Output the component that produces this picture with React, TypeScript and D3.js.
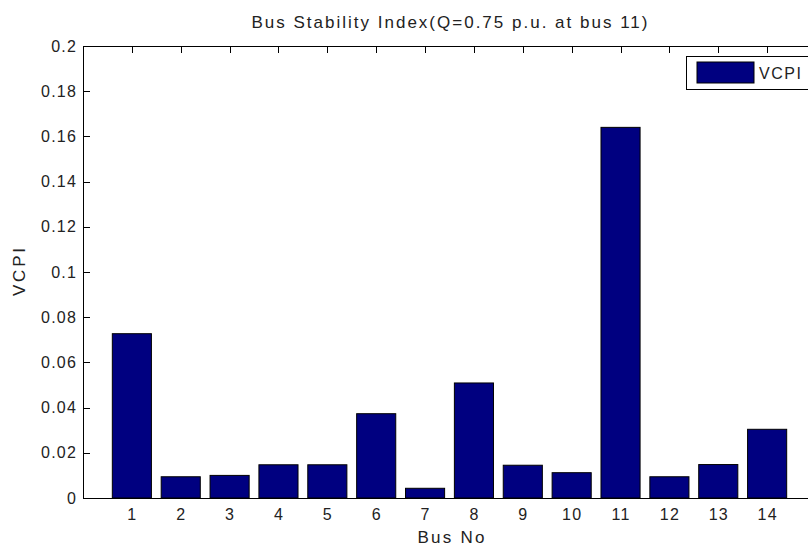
import React from "react";
import * as d3 from "d3";

const busNos = [1, 2, 3, 4, 5, 6, 7, 8, 9, 10, 11, 12, 13, 14];
const vcpi = [0.0727, 0.0094, 0.0100, 0.0147, 0.0147, 0.0373, 0.0043, 0.0509, 0.0145, 0.0112, 0.1640, 0.0094, 0.0148, 0.0304];
const yTicks = [0, 0.02, 0.04, 0.06, 0.08, 0.1, 0.12, 0.14, 0.16, 0.18, 0.2];
const title = "Bus Stability Index(Q=0.75 p.u. at bus 11)";
const xLabel = "Bus No";
const yLabel = "VCPI";
const seriesName = "VCPI";

const W = 808, H = 549;
const left = 83, right = 816, top = 46, bottom = 498;
const FONT = "'Liberation Sans', Arial, Helvetica, sans-serif";

export default function App() {
  const x = d3.scaleLinear().domain([0, 15]).range([left, right]);
  const y = d3.scaleLinear().domain([0, 0.2]).range([bottom, top]);
  const bw = (x(1) - x(0)) * 0.8;
  const tick = 7;
  const fmt = (v: number) => String(+v.toFixed(4));
  return (
    <svg width={W} height={H} style={{ position: "absolute", left: 0, top: 0, background: "#fff" }}>
      <rect x={0} y={0} width={W} height={H} fill="#fff" />
      {/* ticks */}
      <g stroke="#000" strokeWidth={1}>
        {yTicks.map((t) => (
          <line key={"yl" + t} x1={left} x2={left + tick} y1={Math.round(y(t)) + 0.5} y2={Math.round(y(t)) + 0.5} />
        ))}
        {yTicks.map((t) => (
          <line key={"yr" + t} x1={right} x2={right - tick} y1={Math.round(y(t)) + 0.5} y2={Math.round(y(t)) + 0.5} />
        ))}
        {busNos.map((b) => (
          <line key={"xt" + b} x1={Math.round(x(b)) + 0.5} x2={Math.round(x(b)) + 0.5} y1={top} y2={top + tick} />
        ))}
        {busNos.map((b) => (
          <line key={"xb" + b} x1={Math.round(x(b)) + 0.5} x2={Math.round(x(b)) + 0.5} y1={bottom} y2={bottom - tick} />
        ))}
      </g>
      {/* bars */}
      <g>
        {busNos.map((b, i) => (
          <rect
            key={"bar" + b}
            x={x(b) - bw / 2}
            y={y(vcpi[i])}
            width={bw}
            height={y(0) - y(vcpi[i])}
            fill="#000080"
            stroke="#000"
            strokeWidth={1}
          />
        ))}
      </g>
      {/* axes box */}
      <rect x={left + 0.5} y={top + 0.5} width={right - left} height={bottom - top} fill="none" stroke="#000" strokeWidth={1} />
      {/* tick labels */}
      <g fontFamily={FONT} fontSize={16} fill="#222" letterSpacing={1.2}>
        {yTicks.map((t) => (
          <text key={"ylab" + t} x={77} y={y(t)} textAnchor="end" dominantBaseline="central">
            {fmt(t)}
          </text>
        ))}
        {busNos.map((b) => (
          <text key={"xlab" + b} x={x(b) + 0.5} y={514} textAnchor="middle" dominantBaseline="central">
            {b}
          </text>
        ))}
      </g>
      <text x={(left + right) / 2} y={22} fontFamily={FONT} fontSize={17} fill="#222" textAnchor="middle" dominantBaseline="central" textLength={396} lengthAdjust="spacing">
        {title}
      </text>
      <text x={451} y={537} fontFamily={FONT} fontSize={17} fill="#222" textAnchor="middle" dominantBaseline="central" textLength={67} lengthAdjust="spacing">
        {xLabel}
      </text>
      <text transform={`translate(19,${(top + bottom) / 2}) rotate(-90)`} fontFamily={FONT} fontSize={17} fill="#222" textAnchor="middle" dominantBaseline="central" textLength={48} lengthAdjust="spacing">
        {yLabel}
      </text>
      {/* legend */}
      <g>
        <rect x={686.5} y={56.5} width={140} height={33} fill="#fff" stroke="#000" strokeWidth={1} />
        <rect x={697} y={62} width={57} height={21} fill="#000080" stroke="#000" strokeWidth={1} />
        <text x={759} y={73} fontFamily={FONT} fontSize={16} fill="#222" dominantBaseline="central" textLength={42} lengthAdjust="spacing">
          {seriesName}
        </text>
      </g>
    </svg>
  );
}
